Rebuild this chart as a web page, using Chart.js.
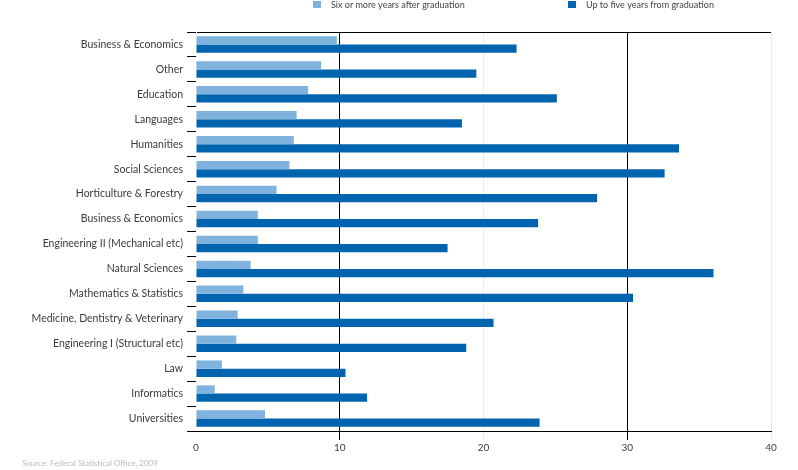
<!DOCTYPE html>
<html>
<head>
<meta charset="utf-8">
<script src="https://cdn.jsdelivr.net/npm/chart.js@4/dist/chart.umd.min.js"></script>
<style>
html,body{margin:0;padding:0;background:#fff;}
#wrap{position:relative;width:798px;height:470px;}
</style>
</head>
<body>
<div id="wrap"><canvas id="c" width="798" height="470"></canvas></div>
<script>
const categories = [
  "Business & Economics", "Other", "Education", "Languages", "Humanities",
  "Social Sciences", "Horticulture & Forestry", "Business & Economics",
  "Engineering II (Mechanical etc)", "Natural Sciences", "Mathematics & Statistics",
  "Medicine, Dentistry & Veterinary", "Engineering I (Structural etc)", "Law",
  "Informatics", "Universities"
];
const sixOrMore = [9.8, 8.7, 7.8, 7.0, 6.8, 6.5, 5.6, 4.3, 4.3, 3.8, 3.3, 2.9, 2.8, 1.8, 1.3, 4.8];
const upToFive = [22.3, 19.5, 25.1, 18.5, 33.6, 32.6, 27.9, 23.8, 17.5, 36.0, 30.4, 20.7, 18.8, 10.4, 11.9, 23.9];
const xTicks = [0, 10, 20, 30, 40];
const seriesNames = ["Six or more years after graduation", "Up to five years from graduation"];
const seriesColors = ["#7fb2dd", "#0064ae"];
const sourceNote = "Source: Federal Statistical Office, 2009";

const FONT = "Lato, 'Open Sans', sans-serif";

const legendPlugin = {
  id: 'topLegend',
  afterDraw(chart) {
    const ctx = chart.ctx;
    const xs = [313, 568];
    ctx.save();
    ctx.font = "9px " + FONT;
    ctx.textBaseline = 'middle';
    chart.data.datasets.forEach((ds, i) => {
      ctx.fillStyle = ds.backgroundColor;
      ctx.fillRect(xs[i], 1, 8, 7);
      ctx.fillStyle = '#444';
      ctx.fillText(ds.label, xs[i] + 18, 5);
    });
    ctx.font = "8px " + FONT;
    ctx.fillStyle = '#bbb';
    ctx.fillText(sourceNote, 22, 463);
    ctx.restore();
  }
};

new Chart(document.getElementById('c'), {
  type: 'bar',
  data: {
    labels: categories,
    datasets: [
      { label: seriesNames[0], data: sixOrMore, backgroundColor: seriesColors[0], categoryPercentage: 0.66, barPercentage: 1.0 },
      { label: seriesNames[1], data: upToFive, backgroundColor: seriesColors[1], categoryPercentage: 0.66, barPercentage: 1.0 }
    ]
  },
  options: {
    indexAxis: 'y',
    responsive: false,
    animation: false,
    layout: { padding: { top: 32, right: 27, bottom: 0, left: 0 } },
    plugins: { legend: { display: false }, tooltip: { enabled: false } },
    scales: {
      x: {
        min: 0, max: 40,
        afterFit(s) { s.height = 39; },
        afterBuildTicks(s) { s.ticks = xTicks.map(v => ({ value: v })); },
        border: { display: true, color: '#000', width: 1 },
        grid: {
          color(c) {
            const v = c.tick ? c.tick.value : null;
            if (v === 10 || v === 30) return '#000';
            if (v === 0) return 'rgba(0,0,0,0)';
            return '#ececec';
          },
          lineWidth: 1,
          tickLength: 9,
          drawTicks: true
        },
        ticks: { color: '#3a3a3a', font: { family: FONT, size: 10 }, padding: 2 }
      },
      y: {
        afterFit(s) { s.width = 196; },
        border: { display: true, color: 'rgba(0,0,0,0)', width: 1 },
        grid: {
          offset: true,
          display: true,
          drawOnChartArea: true,
          drawTicks: true,
          color(c) { return c.index === 0 ? '#000' : 'rgba(255,255,255,0)'; },
          tickColor: '#000',
          tickWidth: 1,
          tickLength: 9,
          lineWidth: 1
        },
        ticks: { color: '#3a3a3a', font: { family: FONT, size: 10.5 }, padding: 4, autoSkip: false }
      }
    }
  },
  plugins: [legendPlugin]
});
</script>
</body>
</html>
